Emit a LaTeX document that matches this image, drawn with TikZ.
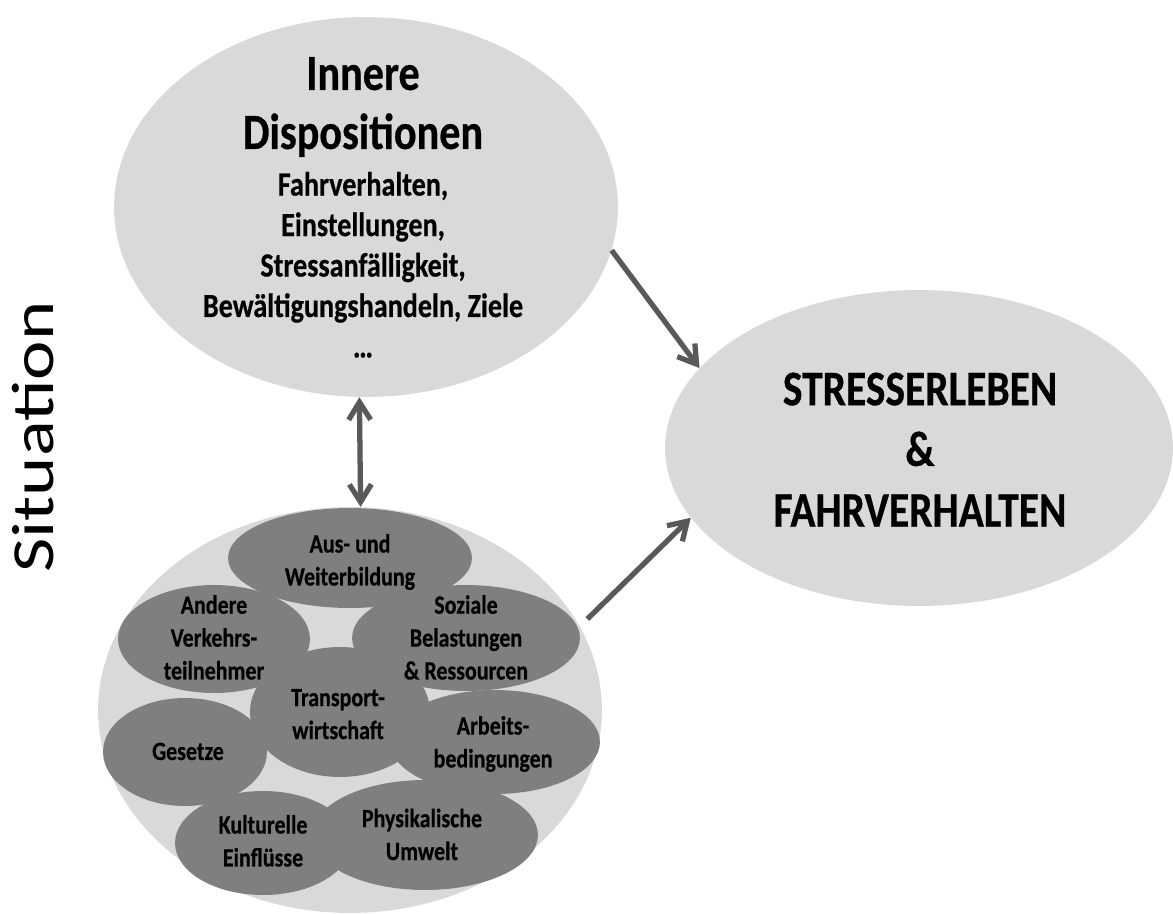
\documentclass[tikz,border=0pt]{standalone}
\usepackage{fontspec}
\setmainfont{Carlito}[BoldFeatures={FakeBold=0.6}]
\usepackage{graphicx}
\usetikzlibrary{arrows.meta,shapes.geometric}

\definecolor{lightblob}{HTML}{D9D9D9}
\definecolor{darkblob}{HTML}{7F7F7F}
\definecolor{arrowgray}{HTML}{595959}

% text of the original is a bit taller than wide
\newcommand{\tallbox}[1]{\scalebox{1}[1.2]{\begin{tabular}{@{}c@{}}#1\end{tabular}}}

\begin{document}
\begin{tikzpicture}[x=0.02cm,y=-0.02cm,>={Straight Barb[length=10pt,width=12.5pt]},
    blob/.style 2 args={ellipse,fill=lightblob,inner sep=0pt,minimum width=#1*0.04cm,minimum height=#2*0.04cm},
    factor/.style 2 args={ellipse,fill=darkblob,inner sep=0pt,minimum width=#1*0.04cm,minimum height=#2*0.04cm},
    head/.style={inner sep=0pt,font=\fontsize{24}{28}\selectfont\bfseries},
    sub/.style={inner sep=0pt,font=\fontsize{16}{19.2}\selectfont\bfseries},
    result/.style={inner sep=0pt,font=\fontsize{23.6}{28.8}\selectfont\bfseries},
    factortext/.style={inner sep=0pt,font=\fontsize{12.5}{15.6}\selectfont\bfseries},
    situlabel/.style={inner sep=0pt,rotate=90,font=\fontsize{34}{40}\selectfont},
    link/.style={draw=arrowgray,line width=3pt}]

  \useasboundingbox (0,0) rectangle (1173,913);

  % big areas
  \node[blob={252}{190}] (dispo) at (366,207) {};
  \node[blob={254}{158}] (stress) at (919,448) {};
  \node[blob={252}{203}] (situ) at (350,710) {};

  % situational factors
  \node[factor={90}{65}] (trans) at (340,712) {};
  \node[factor={122}{50}] (aus) at (350,558) {};
  \node[factor={96}{54}] (andere) at (214,639) {};
  \node[factor={114}{53}] (sozial) at (466,638) {};
  \node[factor={82}{54}] (gesetze) at (185,752) {};
  \node[factor={105}{52}] (arbeit) at (495,742) {};
  \node[factor={88}{52}] (kultur) at (263,843) {};
  \node[factor={113}{55}] (physik) at (425,835) {};

  % texts
  \node[head] (dispo-title) at (363,107.6) {\tallbox{Innere\\Dispositionen}};
  \node[sub] (dispo-list) at (363,268.4) {\tallbox{Fahrverhalten,\\Einstellungen,\\Stressanfälligkeit,\\Bewältigungshandeln, Ziele\\…}};
  \node[result] (stress-text) at (920,453.8) {\tallbox{STRESSERLEBEN\\\&\\FAHRVERHALTEN}};

  \node[factortext] (trans-text) at (338,716) {\tallbox{Transport-\\wirtschaft}};
  \node[factortext] (aus-text) at (350,562.4) {\tallbox{Aus- und\\Weiterbildung}};
  \node[factortext] (andere-text) at (214,640) {\tallbox{Andere\\Verkehrs-\\teilnehmer}};
  \node[factortext] (sozial-text) at (466,640) {\tallbox{Soziale\\Belastungen\\\& Ressourcen}};
  \node[factortext] (gesetze-text) at (188,753.4) {\tallbox{Gesetze}};
  \node[factortext] (arbeit-text) at (493,744.4) {\tallbox{Arbeits-\\bedingungen}};
  \node[factortext] (kultur-text) at (263,843.4) {\tallbox{Kulturelle\\Einflüsse}};
  \node[factortext] (physik-text) at (422,837) {\tallbox{Physikalische\\Umwelt}};

  \node[situlabel] (situ-label) at (33,437) {\scalebox{1.25}[1]{Situation}};

  % influences
  \draw[link,->] (dispo.-10) -- (stress.160);
  \draw[link,->,shorten <=6pt] (situ.20.5) -- (stress.197);
  \draw[link,<->] (dispo.-92.4) -- (situ.87.7);
\end{tikzpicture}
\end{document}
